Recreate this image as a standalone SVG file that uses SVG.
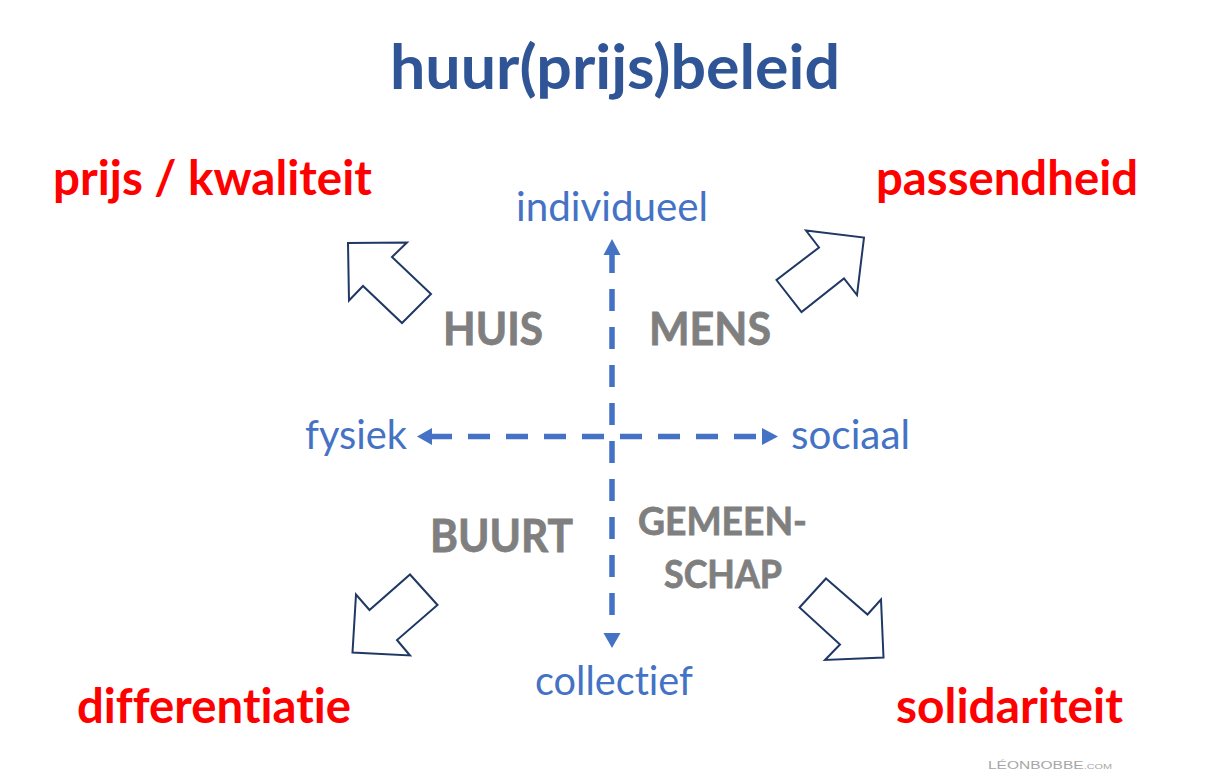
<svg xmlns="http://www.w3.org/2000/svg" width="1224" height="784" viewBox="0 0 1224 784">
  <style>
    text { font-variant-ligatures: none; font-feature-settings: "liga" 0, "clig" 0, "dlig" 0; }
    .title { font-family: Lato, "Liberation Sans", sans-serif; font-weight: bold; fill: #2F5597; }
    .goal { font-family: Lato, "Liberation Sans", sans-serif; font-weight: bold; fill: #FF0000; font-size: 48px; }
    .axis { font-family: Lato, "Liberation Sans", sans-serif; font-weight: normal; fill: #4472C4; font-size: 40px; }
    .quad { font-family: Lato, "Liberation Sans", sans-serif; font-weight: bold; fill: #7F7F7F; stroke: #7F7F7F; stroke-width: 0.8; }
    .mark { font-family: "Liberation Sans", sans-serif; fill: #A6A6A6; }
    .dash { fill: none; stroke: #4472C4; stroke-width: 5.5; stroke-dasharray: 22 16; }
    .head { fill: #4472C4; }
    .block { fill: #FFFFFF; stroke: #1F3864; stroke-width: 2; stroke-linejoin: miter; }
  </style>
  <rect width="1224" height="784" fill="#FFFFFF"/>

  <g id="title">
    <text class="title" x="390" y="89" font-size="62" textLength="450" lengthAdjust="spacingAndGlyphs">huur(prijs)beleid</text>
  </g>

  <g id="connectors">
    <!-- horizontal axis -->
    <path class="dash" d="M430,436.5 H762"/>
    <polygon class="head" points="417,436.5 432,428 432,445"/>
    <polygon class="head" points="778,436.5 762,428 762,445"/>
    <!-- vertical axis -->
    <path class="dash" d="M612,251 V631"/>
    <polygon class="head" points="612,239 603.5,255 620.5,255"/>
    <polygon class="head" points="612,648 603.5,633 620.5,633"/>
    <!-- block arrows -->
    <polygon class="block" points="348,243 407,242.5 392,257 431,294 402,323 363,286 349,300.5"/>
    <polygon class="block" points="806,230.5 864,237.5 857,295 844,278.5 801.5,312 776.5,280 819,247.5"/>
    <polygon class="block" points="410,574.5 437.5,605 397,640 410,655.5 352.5,652.5 356,594.5 369.5,610"/>
    <polygon class="block" points="826,578.5 867.5,614.5 881,599.5 883.5,657.5 825,660 840,644.5 799.5,607.5"/>
  </g>

  <g id="node-prijs-kwaliteit">
    <text class="goal" x="53" y="195" textLength="319" lengthAdjust="spacingAndGlyphs">prijs / kwaliteit</text>
  </g>
  <g id="node-passendheid">
    <text class="goal" x="876" y="195" textLength="262" lengthAdjust="spacingAndGlyphs">passendheid</text>
  </g>
  <g id="node-differentiatie">
    <text class="goal" x="77" y="723" textLength="274" lengthAdjust="spacingAndGlyphs">differentiatie</text>
  </g>
  <g id="node-solidariteit">
    <text class="goal" x="896" y="723" textLength="227" lengthAdjust="spacingAndGlyphs">solidariteit</text>
  </g>

  <g id="node-individueel">
    <text class="axis" x="516" y="221" textLength="192" lengthAdjust="spacingAndGlyphs">individueel</text>
  </g>
  <g id="node-fysiek">
    <text class="axis" x="305" y="449" textLength="102" lengthAdjust="spacingAndGlyphs">fysiek</text>
  </g>
  <g id="node-sociaal">
    <text class="axis" x="791" y="449" textLength="119" lengthAdjust="spacingAndGlyphs">sociaal</text>
  </g>
  <g id="node-collectief">
    <text class="axis" x="535" y="695" textLength="158" lengthAdjust="spacingAndGlyphs">collectief</text>
  </g>

  <g id="node-huis">
    <text class="quad" x="443" y="345" font-size="46" textLength="100" lengthAdjust="spacingAndGlyphs">HUIS</text>
  </g>
  <g id="node-mens">
    <text class="quad" x="649" y="345" font-size="46" textLength="122" lengthAdjust="spacingAndGlyphs">MENS</text>
  </g>
  <g id="node-buurt">
    <text class="quad" x="430" y="552" font-size="46" textLength="143" lengthAdjust="spacingAndGlyphs">BUURT</text>
  </g>
  <g id="node-gemeenschap">
    <text class="quad" x="638" y="535" font-size="39" textLength="169" lengthAdjust="spacingAndGlyphs">GEMEEN-</text>
    <text class="quad" x="664" y="588" font-size="39" textLength="118" lengthAdjust="spacingAndGlyphs">SCHAP</text>
  </g>

  <g id="watermark">
    <text class="mark" x="988" y="769" font-size="10" textLength="124" lengthAdjust="spacingAndGlyphs">LÉONBOBBE<tspan font-size="7">.COM</tspan></text>
  </g>
</svg>
